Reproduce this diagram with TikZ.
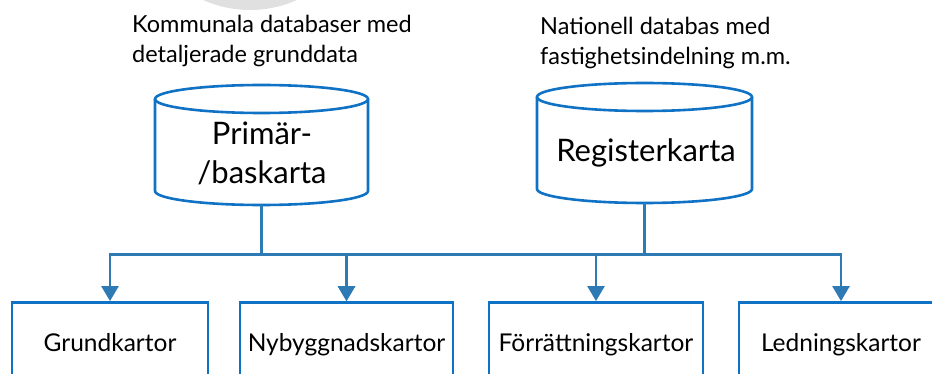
\documentclass[tikz,border=0pt]{standalone}
\usepackage{fontspec}
\setmainfont{Lato}
\usetikzlibrary{arrows.meta}
\definecolor{boxblue}{RGB}{16,114,196}
\definecolor{connblue}{RGB}{46,122,180}
\definecolor{blobgray}{RGB}{224,224,224}
\newcommand{\dbcyl}[4]{%
  \draw[cylline] (#1-#4,#2) -- (#1-#4,#3)
     arc[start angle=180,end angle=360,x radius=#4pt,y radius=14pt] -- (#1+#4,#2);
  \draw[cylline] (#1,#2) ellipse[x radius=#4pt,y radius=14pt];}
\begin{document}
\begin{tikzpicture}[x=1pt,y=-1pt,
  cylline/.style={draw=boxblue,line width=2.6pt},
  cylnode/.style={inner sep=0pt,minimum width=#1pt},
  mapbox/.style={draw=boxblue,line width=2.8pt,minimum width=#1pt,minimum height=80pt,
     inner sep=0pt,text height=17pt,text depth=0pt,font=\fontsize{24.5}{28}\selectfont},
  note/.style={anchor=base west,align=left,inner sep=0pt,font=\fontsize{23.5}{30}\selectfont},
  bigtext/.style={anchor=base,align=center,inner sep=0pt,font=\fontsize{31}{39}\selectfont},
  conn/.style={draw=connblue,line width=2.5pt,-{Triangle[width=17pt,length=15pt]}}]
\useasboundingbox (0,0) rectangle (932,374);
\clip (0,0) rectangle (932,374);
\fill[blobgray] (250,-105) circle[radius=115pt];
% notes (base anchor = baseline of the last line)
\node[note] (n1) at (132,63) {Kommunala databaser med\\detaljerade grunddata};
\node[note] (n2) at (540,65) {Nationell databas med\\fastighetsindelning m.m.};
% cylinders
\dbcyl{261.5}{99}{191}{106.5}
\dbcyl{644.5}{97}{189}{107.5}
\node[cylnode=213,minimum height=120pt] (prim) at (261.5,145) {};
\node[cylnode=215,minimum height=121pt] (reg) at (644.5,142.5) {};
\node[bigtext] (primtxt) at (262,184) {Primär-\\/baskarta};
\node[bigtext] (regtxt) at (646,162) {Registerkarta};
% boxes
\node[mapbox=196] (b1) at (110,342.5) {Grundkartor};
\node[mapbox=213] (b2) at (346.5,342.5) {Nybyggnadskartor};
\node[mapbox=214] (b3) at (596,342.5) {Förrättningskartor};
\node[mapbox=204] (b4) at (841,342.5) {Ledningskartor};
% connectors
\coordinate (busL) at (261.5,254.5);
\coordinate (busR) at (644.5,254.5);
\draw[conn] (prim.south) -- (busL) -| (b1.north);
\draw[conn] (prim.south) -- (busL) -| (b2.north);
\draw[conn] (reg.south) -- (busR) -| (b2.north);
\draw[conn] (reg.south) -- (busR) -| (b3.north);
\draw[conn] (reg.south) -- (busR) -| (b4.north);
\end{tikzpicture}
\end{document}
